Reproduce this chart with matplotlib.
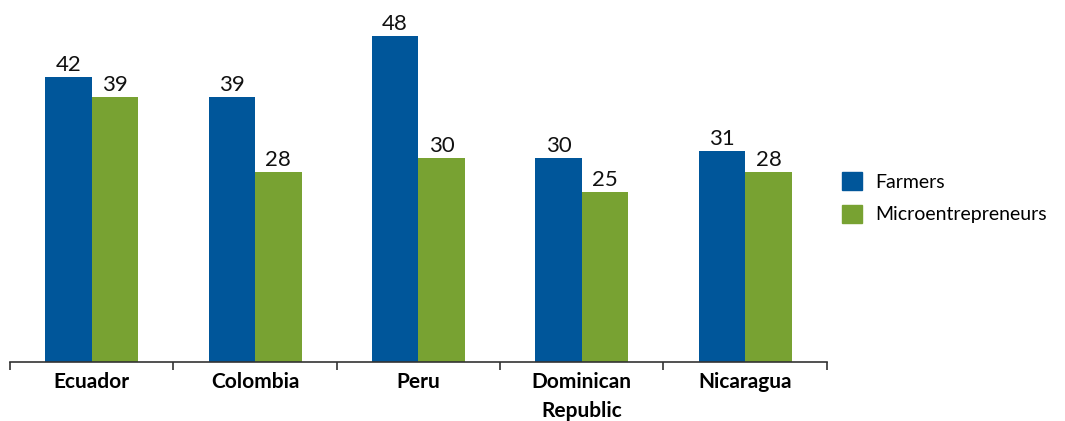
import matplotlib
matplotlib.use("Agg")
import matplotlib.pyplot as plt
import numpy as np
from matplotlib.patches import Patch

countries = ["Ecuador", "Colombia", "Peru", "Dominican\nRepublic", "Nicaragua"]
farmers = [42, 39, 48, 30, 31]
micro = [39, 28, 30, 25, 28]

BLUE = "#00569a"
GREEN = "#78a232"

plt.rcParams["font.family"] = ["Lato", "DejaVu Sans"]

fig = plt.figure(figsize=(10.65, 4.21), dpi=100)
ax = fig.add_axes([0.0094, 0.140, 0.767, 0.86])

x = np.arange(len(countries))
w = 0.285
b1 = ax.bar(x - w / 2, farmers, w, color=BLUE, label="Farmers")
b2 = ax.bar(x + w / 2, micro, w, color=GREEN, label="Microentrepreneurs")

for bars, vals in ((b1, farmers), (b2, micro)):
    for r, v in zip(bars, vals):
        ax.text(r.get_x() + r.get_width() / 2, v + 0.3, str(v),
                ha="center", va="bottom", fontsize=16, color="#111111")

ax.set_xlim(-0.5, len(countries) - 0.5)
ax.set_ylim(0, 53.3)

# category labels at centres, boundary ticks between groups
ax.set_xticks(x)
ax.set_xticklabels(countries, fontsize=15, fontweight="bold", linespacing=1.6)
ax.tick_params(axis="x", which="major", length=0, pad=7)
ax.set_xticks(np.arange(-0.5, len(countries)), minor=True)
ax.tick_params(axis="x", which="minor", length=6, width=1.2, color="#333333")
ax.set_yticks([])

for s in ("left", "right", "top"):
    ax.spines[s].set_visible(False)
ax.spines["bottom"].set_color("#333333")
ax.spines["bottom"].set_linewidth(1.2)

handles = [Patch(color=BLUE, label="Farmers"), Patch(color=GREEN, label="Microentrepreneurs")]
fig.legend(handles=handles, loc="center left", bbox_to_anchor=(0.774, 0.53),
           frameon=False, fontsize=14, handlelength=1.05, handleheight=1.05,
           handletextpad=0.65, labelspacing=0.7)

fig.savefig("out.png", dpi=100)
